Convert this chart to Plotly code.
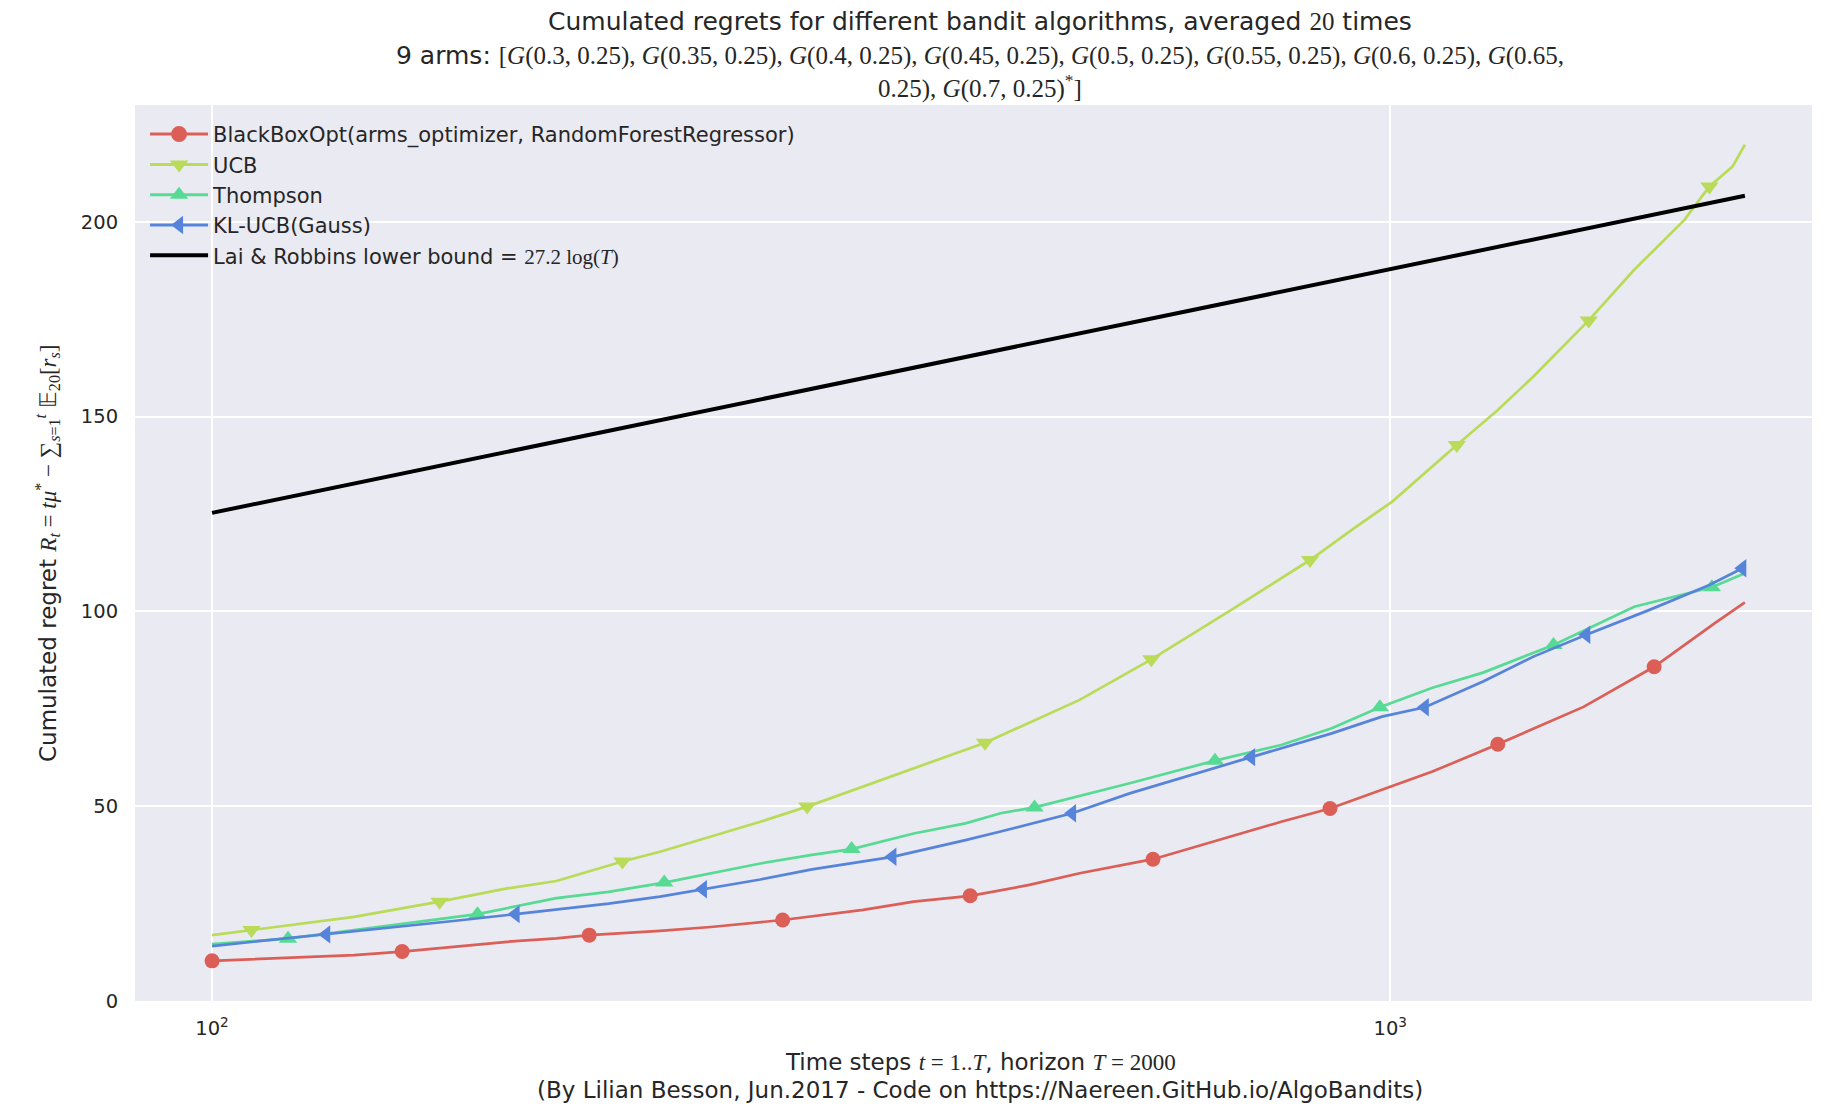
import plotly.graph_objects as go

# ---- data ----
bb_t = [100, 119, 132, 145, 161, 178, 196, 209, 240, 265, 305, 357, 394, 440, 494, 545, 629, 733, 808, 889, 984, 1086, 1234, 1459, 1675, 1886, 2000]
bb_v = [10.3, 11.3, 11.8, 12.7, 13.9, 15.2, 16.1, 16.9, 18.0, 19.0, 20.8, 23.4, 25.5, 27.0, 29.8, 32.8, 36.4, 42.2, 46.0, 49.4, 54.2, 58.9, 65.9, 75.5, 85.8, 97.0, 102.3]
bb_mt = [100, 145, 209, 305, 440, 629, 889, 1234, 1675]
bb_mv = [10.3, 12.7, 16.9, 20.8, 27.0, 36.4, 49.4, 65.9, 85.8]

ucb_t = [100, 108, 132, 156, 178, 196, 223, 240, 265, 292, 320, 357, 394, 453, 545, 627, 733, 855, 932, 1004, 1139, 1234, 1323, 1474, 1611, 1777, 1866, 1952, 2000]
ucb_v = [16.9, 18.2, 21.6, 25.5, 28.9, 30.8, 35.8, 38.3, 42.2, 46.0, 49.9, 55.0, 59.7, 66.3, 77.3, 87.7, 100.4, 113.2, 121.4, 128.2, 142.7, 151.7, 160.3, 174.7, 187.7, 200.5, 209.1, 214.2, 219.8]
ucb_mt = [108, 156, 223, 320, 453, 627, 855, 1139, 1474, 1866]
ucb_mv = [18.2, 25.5, 35.8, 49.9, 66.3, 87.7, 113.2, 142.7, 174.7, 209.1]

ts_t = [100, 116, 132, 146, 168, 196, 217, 242, 265, 292, 323, 349, 394, 436, 467, 499, 601, 710, 808, 892, 980, 1086, 1199, 1376, 1611, 1875, 2000]
ts_v = [14.6, 16.0, 18.2, 19.9, 22.3, 26.4, 28.0, 30.4, 32.8, 35.3, 37.5, 39.0, 43.0, 45.6, 48.2, 49.7, 55.9, 61.7, 65.7, 70.0, 75.4, 80.4, 84.3, 91.4, 101.2, 106.2, 109.8]
ts_mt = [116, 168, 242, 349, 499, 710, 980, 1376, 1875]
ts_mv = [16.0, 22.3, 30.4, 39.0, 49.7, 61.7, 75.4, 91.4, 106.2]

kl_t = [100, 125, 146, 161, 181, 217, 240, 261, 292, 323, 378, 436, 467, 537, 601, 762, 892, 984, 1070, 1199, 1323, 1467, 1660, 1866, 1990, 2000]
kl_v = [14.1, 17.1, 19.1, 20.6, 22.3, 25.0, 26.8, 28.7, 31.2, 33.8, 37.0, 41.3, 43.5, 48.2, 53.3, 62.6, 68.7, 73.0, 75.4, 82.0, 88.4, 94.0, 100.4, 106.8, 111.1, 111.4]
kl_mt = [125, 181, 261, 378, 537, 762, 1070, 1467, 1990]
kl_mv = [17.1, 22.3, 28.7, 37.0, 48.2, 62.6, 75.4, 94.0, 111.1]

lr_t = [100, 2000]
lr_v = [125.3, 206.7]

x_tickvals = [100, 1000]
x_ticktext = ["10<sup>2</sup>", "10<sup>3</sup>"]
y_tickvals = [0, 50, 100, 150, 200]

SERIF = "Liberation Serif"
def m(s):
    return f"<span style='font-family:{SERIF}'>{s}</span>"

series = [
    ("BlackBoxOpt(arms_optimizer, RandomForestRegressor)", bb_t, bb_v, bb_mt, bb_mv, "#db5f57", "circle", 15),
    ("UCB", ucb_t, ucb_v, ucb_mt, ucb_mv, "#b9db57", "triangle-down", 16),
    ("Thompson", ts_t, ts_v, ts_mt, ts_mv, "#57db94", "triangle-up", 16),
    ("KL-UCB(Gauss)", kl_t, kl_v, kl_mt, kl_mv, "#5784db", "triangle-left", 16),
]

fig = go.Figure()
for i, (name, t, v, mt, mv, col, sym, ms) in enumerate(series):
    g = f"g{i}"
    fig.add_trace(go.Scatter(x=t, y=v, mode="lines", line=dict(color=col, width=2.7),
                             showlegend=False, legendgroup=g, hoverinfo="skip"))
    fig.add_trace(go.Scatter(x=mt, y=mv, mode="markers",
                             marker=dict(color=col, symbol=sym, size=ms, line=dict(width=0)),
                             showlegend=False, legendgroup=g))
    fig.add_trace(go.Scatter(x=[None], y=[None], mode="lines+markers", name=name,
                             line=dict(color=col, width=3),
                             marker=dict(color=col, symbol=sym, size=16, line=dict(width=0)),
                             legendgroup=g))

fig.add_trace(go.Scatter(x=lr_t, y=lr_v, mode="lines", line=dict(color="black", width=4),
                         name="Lai & Robbins lower bound = " + m("27.2 log(<i>T</i>)"),
                         legendgroup="g4"))

TXT = "#262626"
fig.update_layout(
    width=1834, height=1114,
    margin=dict(l=135, r=22, t=105, b=113),
    paper_bgcolor="white", plot_bgcolor="#EAEAF2",
    font=dict(family="DejaVu Sans", size=19, color=TXT),
    showlegend=True,
    legend=dict(x=0.006, y=0.99, xanchor="left", yanchor="top",
                bgcolor="rgba(0,0,0,0)", font=dict(size=21, color=TXT),
                traceorder="grouped", tracegroupgap=0, itemwidth=58),
    xaxis=dict(type="log", range=[1.9346, 3.358], tickvals=x_tickvals, ticktext=x_ticktext,
               showgrid=True, gridcolor="white", gridwidth=1.8, zeroline=False,
               ticks="outside", ticklen=10, tickcolor="rgba(0,0,0,0)", showline=False,
               tickfont=dict(size=19.5, color=TXT)),
    yaxis=dict(range=[0, 230], tickvals=y_tickvals,
               showgrid=True, gridcolor="white", gridwidth=1.8, zeroline=False,
               ticks="outside", ticklen=12, tickcolor="rgba(0,0,0,0)", showline=False,
               tickfont=dict(size=19.5, color=TXT)),
)

title_lines = [
    "Cumulated regrets for different bandit algorithms, averaged " + m("20") + " times",
    "9 arms: " + m("[<i>G</i>(0.3, 0.25), <i>G</i>(0.35, 0.25), <i>G</i>(0.4, 0.25), <i>G</i>(0.45, 0.25), "
                   "<i>G</i>(0.5, 0.25), <i>G</i>(0.55, 0.25), <i>G</i>(0.6, 0.25), <i>G</i>(0.65,"),
    m("0.25), <i>G</i>(0.7, 0.25)<sup>*</sup>]"),
]
title_y = [21, 55, 87]
for txt, py in zip(title_lines, title_y):
    fig.add_annotation(text=txt, xref="paper", yref="paper", x=0.504, y=(1001 - py) / 896,
                       xanchor="center", yanchor="middle", showarrow=False,
                       font=dict(size=25, color=TXT))

xt_lines = [
    "Time steps " + m("<i>t</i> = 1..<i>T</i>") + ", horizon " + m("<i>T</i> = 2000"),
    "(By Lilian Besson, Jun.2017 - Code on https://Naereen.GitHub.io/AlgoBandits)",
]
for txt, py in zip(xt_lines, [1062, 1090]):
    fig.add_annotation(text=txt, xref="paper", yref="paper", x=0.504, y=(1001 - py) / 896,
                       xanchor="center", yanchor="middle", showarrow=False,
                       font=dict(size=23, color=TXT))

ytitle = ("Cumulated regret " + m("<i>R<sub>t</sub></i> = <i>tμ</i><sup>*</sup> − ∑<sub><i>s</i>=1</sub>"
          "<sup><i>t</i></sup> 𝔼<sub>20</sub>[<i>r<sub>s</sub></i>]"))
fig.add_annotation(text=ytitle, xref="paper", yref="paper", x=(47 - 135) / 1677, y=0.5,
                   xanchor="center", yanchor="middle", textangle=-90, showarrow=False,
                   font=dict(size=23, color=TXT))

fig.write_html("out.html")
